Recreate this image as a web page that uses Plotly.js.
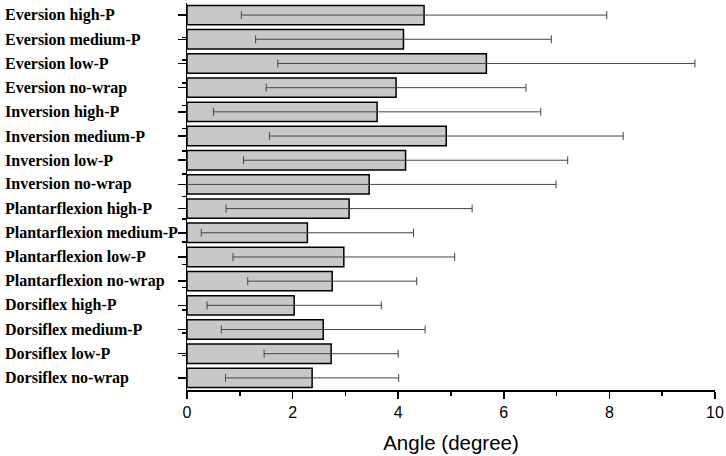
<!DOCTYPE html>
<html>
<head>
<meta charset="utf-8">
<script src="https://cdn.plot.ly/plotly-3.0.1.min.js"></script>
<style>
  html, body { margin: 0; padding: 0; background: #fff; }
  #app { width: 726px; height: 456px; }
</style>
</head>
<body>
<div id="app"></div>
<script>
const labels = [
  'Eversion high-P', 'Eversion medium-P', 'Eversion low-P', 'Eversion no-wrap',
  'Inversion high-P', 'Inversion medium-P', 'Inversion low-P', 'Inversion no-wrap',
  'Plantarflexion high-P', 'Plantarflexion medium-P', 'Plantarflexion low-P', 'Plantarflexion no-wrap',
  'Dorsiflex high-P', 'Dorsiflex medium-P', 'Dorsiflex low-P', 'Dorsiflex no-wrap'
]
const means = [4.49, 4.10, 5.67, 3.96, 3.60, 4.91, 4.14, 3.45, 3.07, 2.28, 2.97, 2.75, 2.03, 2.58, 2.73, 2.37]
const sds = [3.46, 2.80, 3.95, 2.46, 3.10, 3.35, 3.07, 3.54, 2.33, 2.01, 2.10, 1.60, 1.65, 1.93, 1.27, 1.64]

const bars = {
  type: 'bar',
  orientation: 'h',
  x: means,
  y: labels,
  marker: { color: '#c8c8c8', line: { color: '#000', width: 1.5 } },
  error_x: { type: 'data', array: sds, visible: true, color: '#444', thickness: 1, width: 4 },
  hoverinfo: 'x+y'
}

// invisible trace so the overlay axis knows the categories (boundary ticks)
const ghost = {
  type: 'scatter',
  mode: 'markers',
  x: means.map(() => 0),
  y: labels,
  yaxis: 'y2',
  marker: { opacity: 0 },
  hoverinfo: 'skip',
  showlegend: false
}

// left-aligned category labels, placed on the category axis
const labelFont = { family: 'Liberation Serif, Times New Roman', size: 16, color: '#000', weight: 'bold' }
const annotations = labels.map(name => ({
  text: name,
  xref: 'paper',
  x: -0.3485,
  xanchor: 'left',
  yref: 'y',
  y: name,
  yanchor: 'middle',
  showarrow: false,
  font: labelFont
}))

const layout = {
  width: 726,
  height: 456,
  margin: { l: 187, r: 11, t: 3, b: 66 },
  paper_bgcolor: '#fff',
  plot_bgcolor: '#fff',
  showlegend: false,
  bargap: 0.2,
  annotations,
  xaxis: {
    range: [0, 10],
    dtick: 2,
    ticks: 'outside',
    ticklen: 7,
    tickwidth: 1.5,
    tickcolor: '#000',
    showline: true,
    linecolor: '#000',
    linewidth: 1.5,
    showgrid: false,
    zeroline: false,
    tickfont: { family: 'Arial, Liberation Sans', size: 16, color: '#000' },
    minor: { dtick: 1, ticks: 'outside', ticklen: 4, tickcolor: '#000', tickwidth: 1.5 },
    title: { text: 'Angle (degree)', font: { family: 'Arial, Liberation Sans', size: 20.5, color: '#000' }, standoff: 16 }
  },
  yaxis: {
    type: 'category',
    autorange: 'reversed',
    ticks: 'outside',
    ticklen: 8,
    tickwidth: 1.5,
    tickcolor: '#000',
    showline: true,
    linecolor: '#000',
    linewidth: 1.5,
    showgrid: false,
    showticklabels: false
  },
  yaxis2: {
    type: 'category',
    overlaying: 'y',
    side: 'left',
    autorange: 'reversed',
    tickson: 'boundaries',
    ticks: 'outside',
    ticklen: 4,
    tickwidth: 1.5,
    tickcolor: '#000',
    showticklabels: false,
    showline: false,
    showgrid: false
  }
}

Plotly.newPlot('app', [bars, ghost], layout, { displayModeBar: false, staticPlot: true })
</script>
</body>
</html>
